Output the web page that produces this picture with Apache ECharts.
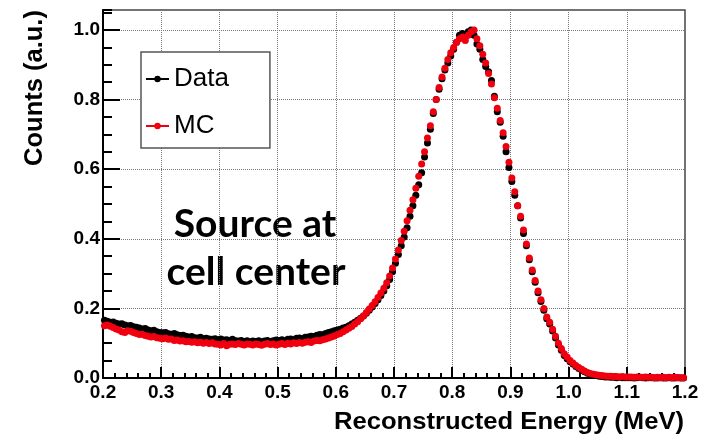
<!DOCTYPE html>
<html>
<head>
<meta charset="utf-8">
<script src="https://cdn.jsdelivr.net/npm/echarts@6/dist/echarts.min.js"></script>
<style>
  html, body { margin: 0; padding: 0; background: #fff; }
  #chart { width: 711px; height: 437px; }
</style>
</head>
<body>
<div id="chart"></div>
<script>
// histogram binning: 200 bins of 0.005 MeV between 0.2 and 1.2
const binLow = 0.2
const binWidth = 0.005

// normalised counts per bin (10 bins = 0.05 MeV per row)
const dataCounts = [
  0.166, 0.163, 0.160, 0.161, 0.157, 0.155, 0.156, 0.152, 0.150, 0.151,
  0.147, 0.146, 0.144, 0.141, 0.142, 0.138, 0.136, 0.137, 0.133, 0.131,
  0.130, 0.131, 0.127, 0.126, 0.128, 0.124, 0.122, 0.123, 0.120, 0.118,
  0.119, 0.116, 0.115, 0.117, 0.113, 0.114, 0.112, 0.111, 0.113, 0.110,
  0.112, 0.109, 0.110, 0.108, 0.111, 0.107, 0.106, 0.108, 0.105, 0.107,
  0.104, 0.106, 0.105, 0.107, 0.104, 0.106, 0.108, 0.105, 0.107, 0.109,
  0.108, 0.110, 0.107, 0.111, 0.112, 0.110, 0.114, 0.115, 0.113, 0.117,
  0.118, 0.120, 0.119, 0.123, 0.125, 0.124, 0.128, 0.131, 0.133, 0.136,
  0.138, 0.140, 0.144, 0.146, 0.150, 0.155, 0.160, 0.166, 0.172, 0.178,
  0.186, 0.195, 0.204, 0.214, 0.225, 0.237, 0.250, 0.265, 0.283, 0.305,
  0.330, 0.355, 0.380, 0.405, 0.432, 0.465, 0.495, 0.525, 0.555, 0.590,
  0.635, 0.675, 0.715, 0.760, 0.800, 0.830, 0.860, 0.885, 0.905, 0.925,
  0.945, 0.965, 0.985, 0.990, 0.980, 0.995, 1.000, 0.985, 0.960, 0.945,
  0.915, 0.895, 0.880, 0.855, 0.810, 0.765, 0.735, 0.695, 0.650, 0.605,
  0.565, 0.525, 0.495, 0.460, 0.415, 0.380, 0.340, 0.305, 0.275, 0.245,
  0.220, 0.195, 0.170, 0.155, 0.135, 0.115, 0.095, 0.080, 0.065, 0.055,
  0.047, 0.040, 0.033, 0.027, 0.022, 0.018, 0.014, 0.011, 0.009, 0.007,
  0.005, 0.004, 0.003, 0.003, 0.002, 0.002, 0.001, 0.002, 0.001, 0.001,
  0.001, 0.001, 0.000, 0.001, 0.002, 0.001, 0.000, 0.001, 0.001, 0.000,
  0.000, 0.001, 0.000, 0.000, 0.001, 0.000, 0.000, 0.001, 0.000, 0.000
]

const mcCounts = [
  0.150, 0.152, 0.149, 0.145, 0.141, 0.138, 0.133, 0.131, 0.136, 0.134,
  0.131, 0.128, 0.125, 0.126, 0.122, 0.120, 0.118, 0.119, 0.116, 0.114,
  0.113, 0.115, 0.111, 0.112, 0.108, 0.109, 0.106, 0.107, 0.104, 0.105,
  0.103, 0.104, 0.101, 0.103, 0.100, 0.102, 0.099, 0.101, 0.098, 0.097,
  0.095, 0.099, 0.093, 0.097, 0.098, 0.096, 0.099, 0.097, 0.095, 0.098,
  0.097, 0.095, 0.098, 0.096, 0.094, 0.097, 0.099, 0.096, 0.098, 0.095,
  0.097, 0.099, 0.096, 0.100, 0.098, 0.101, 0.099, 0.102, 0.100, 0.103,
  0.104, 0.102, 0.106, 0.108, 0.107, 0.110, 0.112, 0.115, 0.118, 0.121,
  0.125, 0.128, 0.133, 0.138, 0.143, 0.148, 0.155, 0.162, 0.170, 0.178,
  0.188, 0.198, 0.208, 0.219, 0.231, 0.244, 0.258, 0.274, 0.293, 0.316,
  0.342, 0.368, 0.395, 0.422, 0.452, 0.482, 0.512, 0.545, 0.580, 0.615,
  0.650, 0.690, 0.725, 0.765, 0.800, 0.835, 0.865, 0.890, 0.915, 0.935,
  0.950, 0.965, 0.975, 0.980, 0.970, 0.985, 0.995, 1.000, 0.975, 0.955,
  0.930, 0.905, 0.875, 0.845, 0.805, 0.775, 0.740, 0.705, 0.665, 0.620,
  0.575, 0.535, 0.495, 0.465, 0.425, 0.385, 0.345, 0.310, 0.280, 0.250,
  0.225, 0.200, 0.175, 0.160, 0.140, 0.120, 0.100, 0.085, 0.070, 0.060,
  0.050, 0.043, 0.036, 0.030, 0.025, 0.020, 0.016, 0.013, 0.011, 0.009,
  0.008, 0.007, 0.006, 0.005, 0.005, 0.004, 0.004, 0.003, 0.004, 0.003,
  0.003, 0.003, 0.002, 0.003, 0.002, 0.002, 0.003, 0.002, 0.002, 0.001,
  0.002, 0.001, 0.002, 0.001, 0.002, 0.001, 0.002, 0.001, 0.001, 0.001
]

const binCenters = dataCounts.map((_, i) => +(binLow + binWidth * (i + 0.5)).toFixed(4))

const labelFont = 'Liberation Sans, Arial, Helvetica, sans-serif'

const chart = echarts.init(document.getElementById('chart'), null, { renderer: 'canvas' })

function pairs(values) {
  return values.map((v, i) => [binCenters[i], v])
}

function histSeries(name, values, color) {
  return {
    name: name,
    type: 'line',
    data: pairs(values),
    symbol: 'circle',
    symbolSize: 7,
    showAllSymbol: true,
    lineStyle: { opacity: 0 },
    itemStyle: { color: color },
    silent: true,
    animation: false
  }
}

chart.setOption({
  backgroundColor: '#fff',
  animation: false,
  grid: {
    left: 103,
    right: 26,
    top: 10,
    bottom: 59,
    show: true,
    borderColor: '#444',
    borderWidth: 1.5
  },
  legend: {
    data: ['Data', 'MC'],
    orient: 'vertical',
    left: 141,
    top: 52,
    padding: [12, 41, 7, 4],
    itemGap: 17,
    itemWidth: 23,
    itemHeight: 8,
    backgroundColor: '#fff',
    borderColor: '#555',
    borderWidth: 1.5,
    lineStyle: { width: 2, opacity: 1 },
    textStyle: { fontFamily: labelFont, fontSize: 26, color: '#000', lineHeight: 30 }
  },
  xAxis: {
    type: 'value',
    min: 0.2,
    max: 1.2,
    interval: 0.1,
    axisLine: { show: true, onZero: false, lineStyle: { color: '#000', width: 2 } },
    axisTick: { show: true, inside: true, length: 11, lineStyle: { color: '#000', width: 2 } },
    minorTick: { show: true, splitNumber: 5, length: 5, lineStyle: { color: '#000', width: 2 } },
    axisLabel: {
      margin: 5,
      fontFamily: labelFont,
      fontWeight: 'bold',
      fontSize: 19,
      color: '#000',
      formatter: v => v.toFixed(1)
    },
    splitLine: { show: true, lineStyle: { type: 'dotted', color: '#777', width: 1 } }
  },
  yAxis: [{
    type: 'value',
    min: 0,
    max: 1.0575,
    interval: 0.2,
    axisLine: { show: true, onZero: false, lineStyle: { color: '#000', width: 2 } },
    axisTick: { show: true, inside: true, length: 17, lineStyle: { color: '#000', width: 2 } },
    axisLabel: {
      margin: 3,
      showMaxLabel: false,
      fontFamily: labelFont,
      fontWeight: 'bold',
      fontSize: 19,
      color: '#000',
      formatter: v => v.toFixed(1)
    },
    splitLine: { show: true, lineStyle: { type: 'dotted', color: '#777', width: 1 } }
  }, {
    // minor ticks every 0.05
    type: 'value',
    position: 'left',
    min: 0,
    max: 1.0575,
    interval: 0.05,
    axisLine: { show: false },
    axisTick: { show: true, inside: true, length: 9, lineStyle: { color: '#000', width: 2 } },
    axisLabel: { show: false },
    splitLine: { show: false }
  }],
  series: [
    histSeries('Data', dataCounts, '#000'),
    histSeries('MC', mcCounts, '#f0000f')
  ],
  graphic: [
    {
      type: 'text',
      x: 35,
      y: 88,
      rotation: Math.PI / 2,
      style: {
        text: 'Counts (a.u.)',
        font: 'bold 25.5px ' + labelFont,
        fill: '#000',
        textAlign: 'center',
        textVerticalAlign: 'middle'
      }
    },
    {
      type: 'text',
      x: 684,
      y: 422,
      scaleX: 1.067,
      style: {
        text: 'Reconstructed Energy (MeV)',
        font: 'bold 24px ' + labelFont,
        fill: '#000',
        textAlign: 'right',
        textVerticalAlign: 'middle'
      }
    },
    {
      type: 'text',
      x: 255,
      y: 224,
      style: {
        text: 'Source at',
        font: 'bold 39px Lato, "Open Sans", sans-serif',
        fill: '#000',
        textAlign: 'center',
        textVerticalAlign: 'middle'
      }
    },
    {
      type: 'text',
      x: 256,
      y: 272,
      style: {
        text: 'cell center',
        font: 'bold 39px Lato, "Open Sans", sans-serif',
        fill: '#000',
        textAlign: 'center',
        textVerticalAlign: 'middle'
      }
    }
  ]
})
</script>
</body>
</html>
